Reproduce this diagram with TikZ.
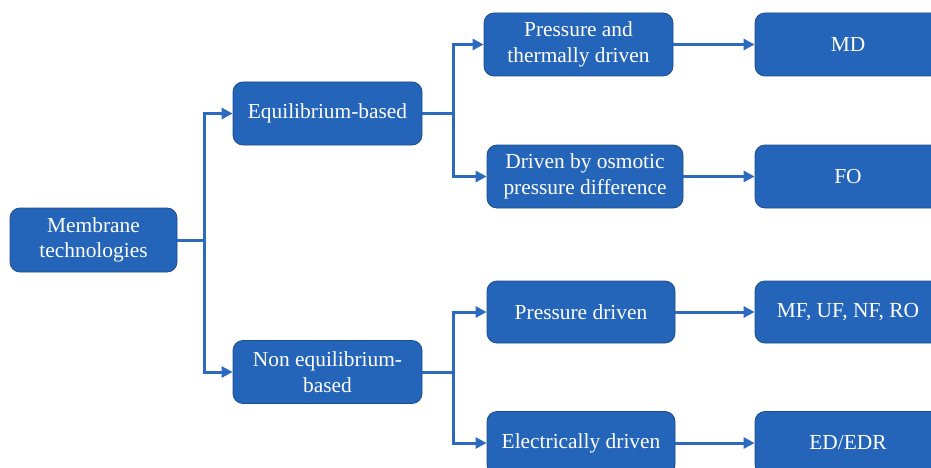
\documentclass[tikz,border=0pt]{standalone}
\usepackage{fontspec}
\setmainfont{Liberation Serif}
\newfontfamily\labelface{Liberation Serif}
\usetikzlibrary{arrows.meta}
\definecolor{boxfill}{HTML}{2565B9}
\definecolor{boxline}{HTML}{1B4C8C}
\definecolor{linkcol}{HTML}{2C6AC0}
\begin{document}
\begin{tikzpicture}[x=1pt,y=-1pt,
  box/.style={draw=boxline,line width=0.8pt,fill=boxfill,rounded corners=10pt,
    text=white,align=center,inner sep=0pt,minimum height=63pt,
    font=\labelface\fontsize{21.4}{25.5}\selectfont},
  link/.style={draw=linkcol,line width=3pt,
    -{Triangle[length=11pt,width=11pt]}}]
\useasboundingbox (0,0) rectangle (931,468);
\clip (0,0) rectangle (931,468);
% level 0
\node[box,minimum width=167pt,minimum height=64pt] (mem) at (93.5,240) {Membrane\\technologies};
% level 1
\node[box,minimum width=189pt] (eq) at (327.5,113.5) {Equilibrium-based};
\node[box,minimum width=189pt] (neq) at (327.5,372) {Non equilibrium-\\based};
% level 2
\node[box,minimum width=189pt] (pt) at (578.5,44.5) {Pressure and\\thermally driven};
\node[box,minimum width=196pt] (osm) at (585,176.5) {Driven by osmotic\\pressure difference};
\node[box,minimum width=188pt,minimum height=62pt] (pd) at (581,312) {Pressure driven};
\node[box,minimum width=188pt] (el) at (581,443) {Electrically driven};
% processes
\node[box,minimum width=186pt] (md) at (848,44.5) {MD};
\node[box,minimum width=186pt] (fo) at (848,176.5) {FO};
\node[box,minimum width=186pt,minimum height=62pt] (mf) at (848,312) {MF, UF, NF, RO};
\node[box,minimum width=186pt] (ed) at (848,443) {ED/EDR};
% branching connectors
\draw[link] (mem.east) -- ++(27,0) |- (eq.west);
\draw[link] (mem.east) -- ++(27,0) |- (neq.west);
\draw[link] (eq.east) -- ++(31,0) |- (pt.west);
\draw[link] (eq.east) -- ++(31,0) |- (osm.west);
\draw[link] (neq.east) -- ++(31,0) |- (pd.west);
\draw[link] (neq.east) -- ++(31,0) |- (el.west);
% straight connectors
\draw[link] (pt.east) -- (md.west);
\draw[link] (osm.east) -- (fo.west);
\draw[link] (pd.east) -- (mf.west);
\draw[link] (el.east) -- (ed.west);
\end{tikzpicture}
\end{document}
